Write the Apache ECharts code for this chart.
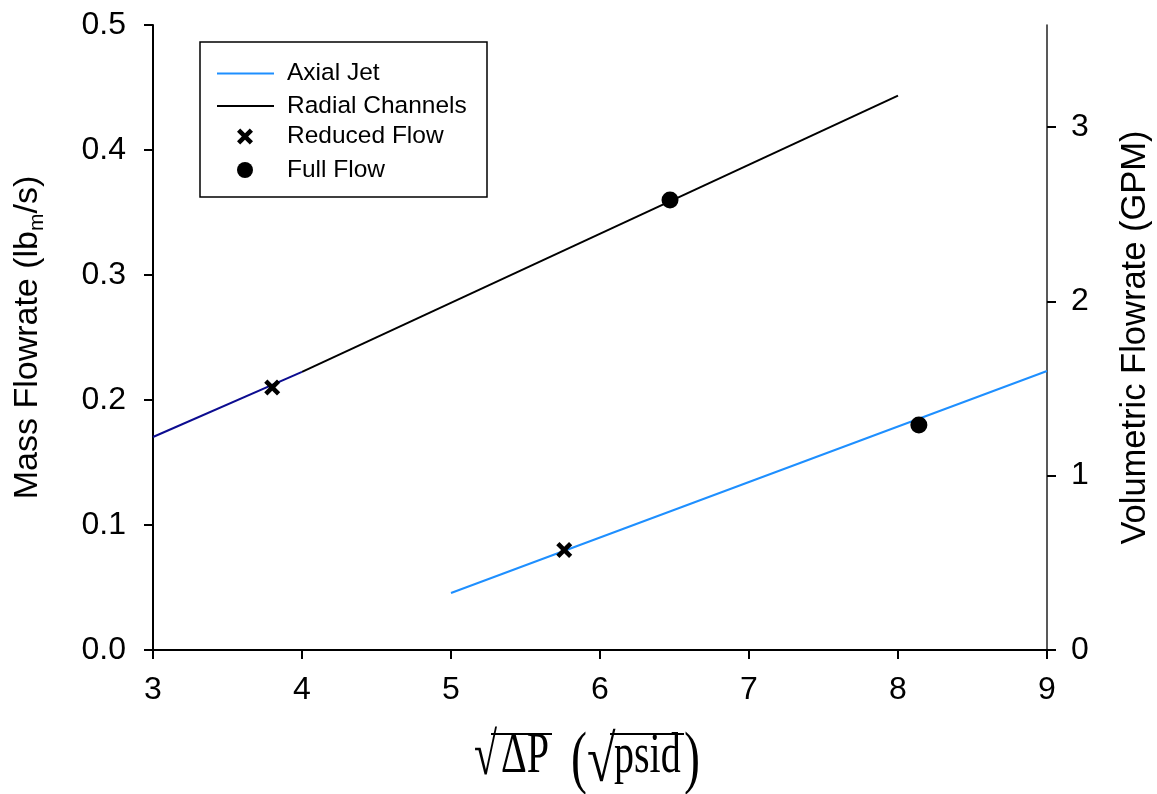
<!DOCTYPE html>
<html>
<head>
<meta charset="utf-8">
<script src="https://cdn.jsdelivr.net/npm/echarts@6/dist/echarts.min.js"></script>
<style>
  html, body { margin: 0; padding: 0; background: #fff; }
  #main { width: 1157px; height: 794px; }
</style>
</head>
<body>
<div id="main"></div>
<script>
// data
var axialX = [5, 9];
var axialY = [0.0456, 0.2232];
var radialX = [4, 8];
var radialY = [0.2225, 0.4435];
var radialLowX = [3, 4];           // dark blue stub at the low end
var radialLowY = [0.1704, 0.2225];
var reducedX = [3.8, 5.76];
var reducedY = [0.21, 0.08];
var fullX = [6.47, 8.14];
var fullY = [0.36, 0.18];

var xTicks = [3, 4, 5, 6, 7, 8, 9];
var leftTicks = ['0.0', '0.1', '0.2', '0.3', '0.4', '0.5'];
var rightTicks = [0, 1, 2, 3];

function pairs(xs, ys) {
    var res = [];
    for (var i = 0; i < xs.length; i++) {
        res.push([xs[i], ys[i]]);
    }
    return res;
}

var FONT = 'Liberation Sans, Arial, sans-serif';
var SERIF = 'Liberation Serif, Times New Roman, serif';
var crossPath = 'path://M2 0L5 3L8 0L10 2L7 5L10 8L8 10L5 7L2 10L0 8L3 5L0 2Z';

var myChart = echarts.init(document.getElementById('main'));

var option = {
    backgroundColor: '#fff',
    animation: false,
    grid: {
        left: 153,
        right: 110,
        top: 25,
        bottom: 144,
        outerBoundsMode: 'none'
    },
    legend: [
        {
            orient: 'vertical',
            left: 212,
            top: 56,
            icon: 'rect',
            itemWidth: 57,
            itemHeight: 2,
            itemGap: 7.5,
            data: ['Axial Jet', 'Radial Channels'],
            textStyle: { fontFamily: FONT, fontSize: 24.5, color: '#000', padding: [0, 0, 0, 8] }
        },
        {
            orient: 'vertical',
            left: 232,
            top: 119,
            itemWidth: 16,
            itemHeight: 16,
            itemGap: 8.5,
            data: ['Reduced Flow', 'Full Flow'],
            textStyle: { fontFamily: FONT, fontSize: 24.5, color: '#000', padding: [0, 0, 0, 29] }
        }
    ],
    xAxis: {
        type: 'value',
        min: 3,
        max: 9,
        interval: 1,
        axisLine: { lineStyle: { color: '#000', width: 2 } },
        axisTick: { inside: false, length: 9, lineStyle: { color: '#000', width: 2 } },
        axisLabel: {
            fontFamily: FONT, fontSize: 32, color: '#000', margin: 24,
            formatter: function (v) { return xTicks.indexOf(v) >= 0 ? String(v) : ''; }
        },
        splitLine: { show: false }
    },
    yAxis: [
        {
            type: 'value',
            min: 0,
            max: 0.5,
            interval: 0.1,
            axisLine: { show: true, lineStyle: { color: '#000', width: 2 } },
            axisTick: { show: true, length: 9, lineStyle: { color: '#000', width: 2 } },
            axisLabel: {
                fontFamily: FONT, fontSize: 32, color: '#000', margin: 27,
                formatter: function (v) { return leftTicks[Math.round(v * 10)]; }
            },
            splitLine: { show: false },
            name: '{a|Mass Flowrate (lb}{s|m}{a|/s)}',
            nameLocation: 'middle',
            nameGap: 105,
            nameTextStyle: {
                rich: {
                    a: { fontFamily: FONT, fontSize: 34, color: '#000', lineHeight: 40 },
                    s: { fontFamily: FONT, fontSize: 21, color: '#000', lineHeight: 21, verticalAlign: 'bottom' }
                }
            }
        },
        {
            type: 'value',
            min: 0,
            max: 3.585,
            interval: 1,
            position: 'right',
            axisLine: { show: true, lineStyle: { color: '#222', width: 1.5 } },
            axisTick: { show: true, length: 9, customValues: rightTicks, lineStyle: { color: '#000', width: 2 } },
            axisLabel: {
                fontFamily: FONT, fontSize: 32, color: '#000', margin: 24,
                customValues: rightTicks,
                formatter: function (v) { return String(v); }
            },
            splitLine: { show: false },
            name: 'Volumetric Flowrate (GPM)',
            nameLocation: 'middle',
            nameGap: 71,
            nameTextStyle: { fontFamily: FONT, fontSize: 34.5, color: '#000' }
        }
    ],
    graphic: [
        {
            type: 'rect',
            shape: { x: 200, y: 42, width: 287, height: 155 },
            style: { fill: 'none', stroke: '#000', lineWidth: 1.5 },
            z: 1
        },
        // x axis title: sqrt(dP) (sqrt(psid))
        {
            type: 'text', x: 474, y: 788, scaleX: 1.05, scaleY: 1.5,
            style: { text: '\u221A', font: '40px ' + SERIF, fill: '#000', textAlign: 'left', textVerticalAlign: 'bottom' }
        },
        {
            type: 'line', shape: { x1: 491, y1: 734, x2: 552, y2: 734 },
            style: { stroke: '#000', lineWidth: 2 }
        },
        {
            type: 'text', x: 501, y: 785, scaleY: 1.4,
            style: { text: '\u0394P', font: '40px ' + SERIF, fill: '#000', textAlign: 'left', textVerticalAlign: 'bottom' }
        },
        {
            type: 'text', x: 571, y: 797, scaleY: 1.45,
            style: { text: '(', font: '48px ' + SERIF, fill: '#000', textAlign: 'left', textVerticalAlign: 'bottom' }
        },
        {
            type: 'text', x: 587, y: 797, scaleX: 1.3, scaleY: 1.65,
            style: { text: '\u221A', font: '40px ' + SERIF, fill: '#000', textAlign: 'left', textVerticalAlign: 'bottom' }
        },
        {
            type: 'line', shape: { x1: 610, y1: 734, x2: 684, y2: 734 },
            style: { stroke: '#000', lineWidth: 2 }
        },
        {
            type: 'text', x: 614, y: 785, scaleY: 1.4,
            style: { text: 'psid', font: '40px ' + SERIF, fill: '#000', textAlign: 'left', textVerticalAlign: 'bottom' }
        },
        {
            type: 'text', x: 684, y: 797, scaleY: 1.45,
            style: { text: ')', font: '48px ' + SERIF, fill: '#000', textAlign: 'left', textVerticalAlign: 'bottom' }
        }
    ],
    series: [
        {
            name: 'Axial Jet',
            type: 'line',
            data: pairs(axialX, axialY),
            symbol: 'none',
            lineStyle: { color: '#1e8fff', width: 2 },
            itemStyle: { color: '#1e8fff' },
            z: 2
        },
        {
            name: 'Radial Channels',
            type: 'line',
            data: pairs(radialX, radialY),
            symbol: 'none',
            lineStyle: { color: '#000', width: 2 },
            itemStyle: { color: '#000' },
            z: 2
        },
        {
            name: 'radial-low',
            type: 'line',
            data: pairs(radialLowX, radialLowY),
            symbol: 'none',
            lineStyle: { color: '#0c0c90', width: 2 },
            itemStyle: { color: '#0c0c90' },
            z: 2
        },
        {
            name: 'Reduced Flow',
            type: 'scatter',
            data: pairs(reducedX, reducedY),
            symbol: crossPath,
            symbolSize: 16,
            itemStyle: { color: '#000', opacity: 1 },
            z: 3
        },
        {
            name: 'Full Flow',
            type: 'scatter',
            data: pairs(fullX, fullY),
            symbol: 'circle',
            symbolSize: 17,
            itemStyle: { color: '#000', opacity: 1 },
            z: 3
        }
    ]
};

myChart.setOption(option);
</script>
</body>
</html>
